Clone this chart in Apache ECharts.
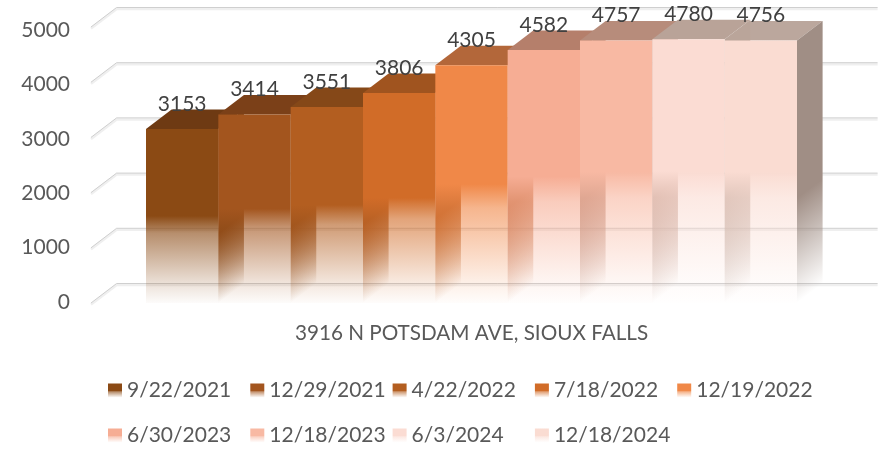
<!DOCTYPE html>
<html>
<head>
<meta charset="utf-8">
<style>
  html, body { margin: 0; padding: 0; background: #fff; }
  #chart { width: 892px; height: 452px; }
</style>
<script src="https://cdn.jsdelivr.net/npm/echarts@6/dist/echarts.min.js"></script>
</head>
<body>
<div id="chart"></div>
<script>
const dates = ['9/22/2021', '12/29/2021', '4/22/2022', '7/18/2022', '12/19/2022', '6/30/2023', '12/18/2023', '6/3/2024', '12/18/2024'];
const values = [3153, 3414, 3551, 3806, 4305, 4582, 4757, 4780, 4756];
const ticks = [0, 1000, 2000, 3000, 4000, 5000];
const axisName = '3916 N POTSDAM AVE, SIOUX FALLS';

const frontColors = ['#8b4a14', '#a3551e', '#b35e20', '#d16c28', '#f08848', '#f6ad94', '#f8b9a3', '#fbdcd3', '#fadcd2'];
const topColors = ['#6e3a13', '#7b4018', '#854818', '#a0541f', '#b3673a', '#b57f6b', '#b78c7b', '#b9a398', '#bba79d'];
const sideColors = ['#7a4213', '#8a4a1a', '#985220', '#ad5a22', '#c06a3a', '#b88a78', '#bb9484', '#baa59a', '#a08e85'];

const font = 'Lato';
const depthX = 25.6;
const depthY = -19.5;
const wallPad = 55;

const chart = echarts.init(document.getElementById('chart'));

function withAlpha(hex, a) {
  const n = parseInt(hex.slice(1), 16);
  return 'rgba(' + (n >> 16) + ',' + ((n >> 8) & 255) + ',' + (n & 255) + ',' + a + ')';
}

// solid down to half height, then fading out to the floor
function fadeStops(hex) {
  return [
    { offset: 0, color: withAlpha(hex, 1) },
    { offset: 0.5, color: withAlpha(hex, 1) },
    { offset: 0.6, color: withAlpha(hex, 0.62) },
    { offset: 0.9, color: withAlpha(hex, 0.15) },
    { offset: 1, color: withAlpha(hex, 0.02) }
  ];
}

function frontFill(hex) {
  return new echarts.graphic.LinearGradient(0, 0, 0, 1, fadeStops(hex));
}

function renderWall(params, api) {
  const y = api.coord([0, api.value(0)])[1];
  const left = params.coordSys.x - wallPad;
  const right = params.coordSys.x + params.coordSys.width + wallPad + depthX;
  const pts = [[left, y], [left + depthX, y + depthY], [right, y + depthY]];
  return {
    type: 'group',
    children: [
      { type: 'polyline', z2: 1, shape: { points: pts.map(p => [p[0], p[1] + 1.5]) }, style: { fill: null, stroke: '#efefef', lineWidth: 2.5 } },
      { type: 'polyline', z2: 2, shape: { points: pts }, style: { fill: null, stroke: '#cfcfcf', lineWidth: 1 } }
    ]
  };
}

function renderBar(params, api) {
  const i = api.value(0);
  const v = api.value(1);
  const top = api.coord([i, v]);
  const base = api.coord([i, 0]);
  const w = api.size([1, 0])[0];
  const xl = top[0] - w / 2;
  const xr = top[0] + w / 2;
  const h = base[1] - top[1];
  // the side fade runs across the depth slant so its foot follows the floor edge
  const sideGrad = new echarts.graphic.LinearGradient(
    xr, top[1], xr + h * 0.48, top[1] + h * 0.64,
    [
      { offset: 0, color: withAlpha(sideColors[i], 1) },
      { offset: 0.6, color: withAlpha(sideColors[i], 1) },
      { offset: 1, color: withAlpha(sideColors[i], 0) }
    ],
    true
  );
  const nextTaller = i < values.length - 1 && values[i + 1] > v;
  return {
    type: 'group',
    children: [
      {
        type: 'polygon', z2: nextTaller ? 9 : 11,
        shape: { points: [[xr, top[1]], [xr + depthX, top[1] + depthY], [xr + depthX, base[1] + depthY], [xr, base[1]]] },
        style: { fill: sideGrad }
      },
      {
        type: 'polygon', z2: 10,
        shape: { points: [[xl, top[1]], [xr, top[1]], [xr + depthX, top[1] + depthY], [xl + depthX, top[1] + depthY]] },
        style: { fill: topColors[i] }
      },
      {
        type: 'rect', z2: 20,
        shape: { x: xl, y: top[1], width: w, height: h },
        style: { fill: frontFill(frontColors[i]) }
      },
      {
        type: 'text', z2: 30,
        style: {
          text: String(v), x: top[0], y: top[1] - 25,
          align: 'center', verticalAlign: 'middle',
          font: '21px ' + font, fill: '#404040'
        }
      }
    ]
  };
}

const barSeries = dates.map(function (d, i) {
  return {
    name: d,
    type: 'custom',
    silent: true,
    renderItem: renderBar,
    encode: { x: 0, y: 1 },
    itemStyle: { color: frontFill(frontColors[i]) },
    data: [[i, values[i]]]
  };
});

const legends = dates.map(function (d, i) {
  return {
    data: [d],
    left: 108 + (i % 5) * 142.3,
    top: i < 5 ? 380 : 425,
    padding: 0,
    icon: 'rect',
    itemWidth: 14,
    itemHeight: 14,
    selectedMode: false,
    textStyle: { fontFamily: font, fontSize: 21, color: '#595959' }
  };
});

chart.setOption({
  backgroundColor: '#fff',
  animation: false,
  legend: legends,
  grid: [
    { left: 146, width: 651, top: 27, height: 276 },
    { left: 72, width: 1, top: 30, height: 272 }
  ],
  xAxis: [
    {
      gridIndex: 0, type: 'category', data: dates,
      name: axisName, nameLocation: 'middle', nameGap: 20,
      nameTextStyle: { fontFamily: font, fontSize: 20.7, color: '#595959' },
      axisLine: { show: false }, axisTick: { show: false }, axisLabel: { show: false }
    },
    { gridIndex: 1, type: 'category', data: [''], show: false }
  ],
  yAxis: [
    {
      gridIndex: 0, type: 'value', min: 0, max: 5000, interval: 1000,
      axisLine: { show: false }, axisTick: { show: false },
      axisLabel: { show: false }, splitLine: { show: false }
    },
    {
      gridIndex: 1, type: 'value', min: 0, max: 5000, interval: 1000,
      axisLine: { show: false }, axisTick: { show: false }, splitLine: { show: false },
      axisLabel: { margin: 2, fontFamily: font, fontSize: 21, color: '#595959', formatter: v => String(v) }
    }
  ],
  series: [
    {
      type: 'custom',
      silent: true,
      renderItem: renderWall,
      encode: { y: 0 },
      data: ticks.map(t => [t])
    }
  ].concat(barSeries)
});
</script>
</body>
</html>
